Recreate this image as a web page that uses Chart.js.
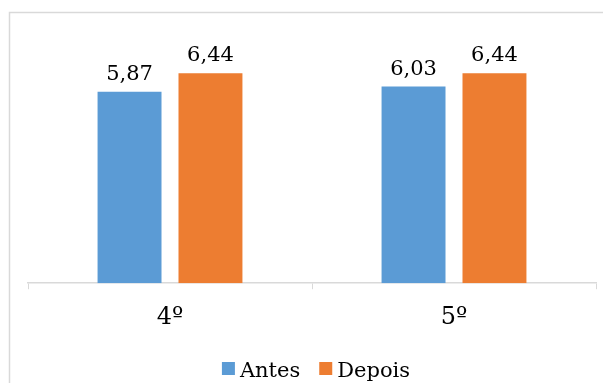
<!DOCTYPE html>
<html>
<head>
<meta charset="utf-8">
<script src="https://cdn.jsdelivr.net/npm/chart.js@4/dist/chart.umd.min.js"></script>
<style>
  html, body { margin: 0; padding: 0; background: #fff; }
  #wrap { width: 603px; height: 383px; position: relative; }
</style>
</head>
<body>
<div id="wrap"><canvas id="c" width="603" height="383"></canvas></div>
<script>
// Grades (series) per school year
const categories = ['4º', '5º'];
const antes = [5.87, 6.03];
const depois = [6.44, 6.44];
const seriesNames = ['Antes', 'Depois'];
const seriesColors = ['#5B9BD5', '#ED7D31'];

const FONT = 'DejaVu Serif';
const fmt = v => v.toFixed(2).replace('.', ',');

// Light frame around the chart
const framePlugin = {
  id: 'frame',
  beforeDraw(chart) {
    const ctx = chart.ctx;
    ctx.save();
    ctx.fillStyle = '#fff';
    ctx.fillRect(0, 0, chart.width, chart.height);
    ctx.strokeStyle = '#d9d9d9';
    ctx.lineWidth = 1.5;
    ctx.strokeRect(9.5, 12.5, 800, 600);
    ctx.restore();
  }
};

// Value labels above each bar
const valueLabels = {
  id: 'valueLabels',
  afterDatasetsDraw(chart) {
    const ctx = chart.ctx;
    ctx.save();
    ctx.font = '21px "' + FONT + '"';
    ctx.fillStyle = '#000';
    ctx.textAlign = 'center';
    ctx.textBaseline = 'alphabetic';
    chart.data.datasets.forEach((ds, i) => {
      chart.getDatasetMeta(i).data.forEach((bar, j) => {
        ctx.fillText(fmt(ds.data[j]), bar.x, bar.y - 12);
      });
    });
    ctx.restore();
  }
};

// Legend drawn under the axis
const bottomLegend = {
  id: 'bottomLegend',
  afterDraw(chart) {
    const ctx = chart.ctx;
    ctx.save();
    ctx.font = '21px "' + FONT + '"';
    ctx.textBaseline = 'alphabetic';
    const box = 13, gapText = 5, gapItem = 19;
    const items = chart.data.datasets.map(ds => ({
      label: ds.label, color: ds.backgroundColor, w: ctx.measureText(ds.label).width
    }));
    let total = items.reduce((s, it) => s + box + gapText + it.w, 0) + gapItem * (items.length - 1);
    const area = chart.chartArea;
    let x = (area.left + area.right) / 2 + 4 - total / 2;
    const boxTop = 362, baseY = 377;
    items.forEach(it => {
      ctx.fillStyle = it.color;
      ctx.fillRect(x, boxTop, box, box);
      x += box + gapText;
      ctx.fillStyle = '#000';
      ctx.fillText(it.label, x, baseY);
      x += it.w + gapItem;
    });
    ctx.restore();
  }
};

new Chart(document.getElementById('c'), {
  type: 'bar',
  data: {
    labels: categories,
    datasets: [
      { label: seriesNames[0], data: antes, backgroundColor: seriesColors[0] },
      { label: seriesNames[1], data: depois, backgroundColor: seriesColors[1] }
    ]
  },
  options: {
    responsive: false,
    animation: false,
    devicePixelRatio: 1,
    categoryPercentage: 0.57,
    barPercentage: 0.79,
    layout: { padding: { top: 55, left: 28, right: 7, bottom: 37 } },
    plugins: { legend: { display: false }, tooltip: { enabled: false } },
    scales: {
      x: {
        grid: { display: true, drawOnChartArea: false, drawTicks: true, tickLength: 6, color: '#d9d9d9', offset: true },
        border: { display: true, color: '#d9d9d9', width: 1.5 },
        ticks: { font: { family: FONT, size: 24 }, color: '#000', padding: 14 }
      },
      y: { display: false, min: 0, max: 7 }
    }
  },
  plugins: [framePlugin, valueLabels, bottomLegend]
});
</script>
</body>
</html>
